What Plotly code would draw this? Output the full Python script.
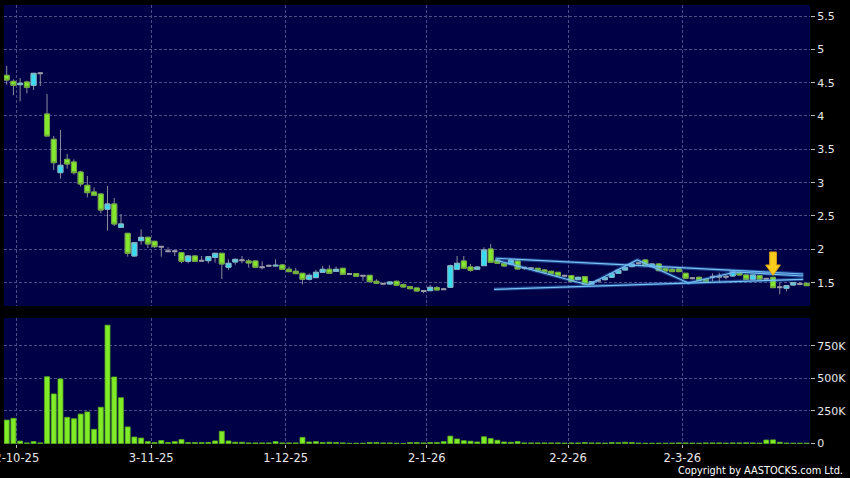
import plotly.graph_objects as go
import pandas as pd

# ---------------- data ----------------
HOLIDAYS = ["2025-10-01", "2025-10-07", "2025-10-29", "2025-12-25", "2025-12-26",
            "2026-01-01", "2026-02-17", "2026-02-18", "2026-02-19"]
dates = [d for d in pd.bdate_range("2025-09-29", "2026-03-26")
         if d.strftime("%Y-%m-%d") not in HOLIDAYS]

open_ = [4.61, 4.52, 4.47, 4.51, 4.46, 4.64, 4.03, 3.65, 3.15, 3.35,
         3.31, 3.16, 2.96, 2.86, 2.83, 2.60, 2.68, 2.33, 2.24, 1.90,
         2.13, 2.18, 2.12, 2.04, 1.97, 1.97, 1.95, 1.82, 1.90, 1.83,
         1.83, 1.88, 1.94, 1.73, 1.81, 1.835, 1.825, 1.825, 1.73, 1.755,
         1.75, 1.765, 1.70, 1.67, 1.64, 1.55, 1.575, 1.655, 1.70, 1.67,
         1.715, 1.63, 1.635, 1.605, 1.61, 1.52, 1.485, 1.48, 1.52, 1.47,
         1.44, 1.42, 1.375, 1.38, 1.425, 1.40, 1.43, 1.70, 1.825, 1.735,
         1.70, 1.755, 2.005, 1.84, 1.79, 1.78, 1.825, 1.725, 1.715, 1.715,
         1.69, 1.67, 1.655, 1.605, 1.605, 1.545, 1.59, 1.475, 1.53, 1.545,
         1.58, 1.64, 1.69, 1.74, 1.79, 1.84, 1.74, 1.78, 1.715, 1.70,
         1.705, 1.64, 1.565, 1.58, 1.55, 1.59, 1.59, 1.59, 1.60, 1.655,
         1.615, 1.55, 1.605, 1.56, 1.58, 1.43, 1.415, 1.465, 1.48, 1.49]
high = [4.75, 4.55, 4.57, 4.53, 4.64, 4.64, 4.33, 3.70, 3.79, 3.43,
        3.35, 3.18, 3.10, 2.93, 2.84, 2.95, 2.77, 2.53, 2.24, 2.10,
        2.30, 2.19, 2.13, 2.04, 2.03, 1.98, 1.96, 1.91, 1.91, 1.90,
        1.89, 1.94, 1.94, 1.85, 1.86, 1.90, 1.855, 1.83, 1.82, 1.77,
        1.85, 1.78, 1.74, 1.72, 1.64, 1.64, 1.69, 1.75, 1.76, 1.74,
        1.72, 1.64, 1.64, 1.61, 1.61, 1.55, 1.49, 1.52, 1.53, 1.49,
        1.45, 1.42, 1.38, 1.465, 1.45, 1.41, 1.77, 1.90, 1.90, 1.78,
        1.74, 2.03, 2.08, 1.87, 1.80, 1.85, 1.83, 1.73, 1.72, 1.72,
        1.70, 1.68, 1.66, 1.61, 1.61, 1.59, 1.59, 1.52, 1.55, 1.58,
        1.64, 1.69, 1.73, 1.79, 1.80, 1.85, 1.79, 1.79, 1.72, 1.71,
        1.71, 1.645, 1.58, 1.59, 1.56, 1.64, 1.65, 1.63, 1.67, 1.66,
        1.62, 1.62, 1.61, 1.57, 1.58, 1.505, 1.46, 1.51, 1.51, 1.50]
low = [4.47, 4.31, 4.22, 4.34, 4.39, 4.45, 3.70, 3.19, 3.06, 3.21,
       3.12, 2.94, 2.78, 2.80, 2.54, 2.28, 2.35, 2.33, 1.89, 1.89,
       2.07, 2.02, 2.02, 1.89, 1.96, 1.90, 1.79, 1.79, 1.82, 1.82,
       1.79, 1.80, 1.555, 1.69, 1.77, 1.79, 1.725, 1.725, 1.70, 1.74,
       1.745, 1.70, 1.66, 1.63, 1.475, 1.53, 1.57, 1.65, 1.64, 1.66,
       1.615, 1.62, 1.59, 1.53, 1.51, 1.49, 1.48, 1.47, 1.46, 1.43,
       1.40, 1.37, 1.34, 1.37, 1.39, 1.39, 1.42, 1.70, 1.71, 1.665,
       1.69, 1.75, 1.80, 1.78, 1.74, 1.77, 1.70, 1.69, 1.70, 1.665,
       1.65, 1.62, 1.59, 1.59, 1.51, 1.54, 1.47, 1.46, 1.50, 1.53,
       1.57, 1.63, 1.68, 1.73, 1.77, 1.75, 1.73, 1.67, 1.67, 1.66,
       1.66, 1.56, 1.55, 1.53, 1.51, 1.52, 1.50, 1.55, 1.59, 1.61,
       1.55, 1.545, 1.55, 1.55, 1.425, 1.325, 1.37, 1.46, 1.46, 1.45]
close = [4.54, 4.46, 4.49, 4.43, 4.64, 4.64, 3.70, 3.30, 3.26, 3.28,
         3.15, 2.98, 2.85, 2.81, 2.59, 2.68, 2.38, 2.38, 1.94, 2.10,
         2.18, 2.08, 2.04, 2.04, 1.97, 1.97, 1.82, 1.90, 1.82, 1.83,
         1.89, 1.94, 1.78, 1.79, 1.85, 1.835, 1.795, 1.73, 1.73, 1.755,
         1.76, 1.70, 1.665, 1.635, 1.55, 1.61, 1.655, 1.70, 1.64, 1.70,
         1.625, 1.63, 1.595, 1.605, 1.515, 1.49, 1.485, 1.51, 1.46, 1.435,
         1.41, 1.375, 1.375, 1.43, 1.39, 1.40, 1.755, 1.79, 1.715, 1.685,
         1.735, 1.99, 1.805, 1.79, 1.75, 1.84, 1.705, 1.725, 1.715, 1.675,
         1.655, 1.63, 1.60, 1.605, 1.52, 1.58, 1.475, 1.515, 1.53, 1.575,
         1.635, 1.685, 1.725, 1.78, 1.79, 1.755, 1.78, 1.68, 1.675, 1.665,
         1.665, 1.565, 1.565, 1.53, 1.515, 1.59, 1.59, 1.59, 1.665, 1.615,
         1.55, 1.615, 1.55, 1.56, 1.425, 1.43, 1.455, 1.50, 1.48, 1.455]
volume = [180e3, 193e3, 19e3, 5e3, 15e3, 5e3, 512e3, 380e3, 495e3, 201e3,
          190e3, 226e3, 242e3, 109e3, 278e3, 907e3, 510e3, 351e3, 127e3, 50e3,
          42e3, 15e3, 8e3, 23e3, 8e3, 15e3, 30e3, 8e3, 8e3, 8e3,
          8e3, 20e3, 94e3, 20e3, 10e3, 10e3, 5e3, 5e3, 5e3, 5e3,
          15e3, 5e3, 5e3, 5e3, 47e3, 12e3, 15e3, 8e3, 10e3, 8e3,
          5e3, 2e3, 3e3, 3e3, 8e3, 8e3, 5e3, 5e3, 3e3, 1e3,
          8e3, 8e3, 5e3, 8e3, 8e3, 15e3, 57e3, 35e3, 22e3, 18e3,
          12e3, 52e3, 38e3, 25e3, 12e3, 10e3, 15e3, 5e3, 5e3, 5e3,
          5e3, 5e3, 5e3, 4e3, 5e3, 5e3, 8e3, 5e3, 5e3, 4e3,
          8e3, 6e3, 10e3, 8e3, 4e3, 3e3, 3e3, 3e3, 3e3, 4e3,
          5e3, 5e3, 4e3, 3e3, 5e3, 5e3, 5e3, 4e3, 5e3, 5e3,
          6e3, 5e3, 4e3, 27e3, 28e3, 10e3, 4e3, 3e3, 3e3, 3e3]

price_ticks = [1.5, 2, 2.5, 3, 3.5, 4, 4.5, 5, 5.5]
vol_ticks = [0, 250e3, 500e3, 750e3]
vol_tick_text = ["0", "250K", "500K", "750K"]

# drawn trend lines (bar index, price)
upper_line_x, upper_line_y = [72.7, 118.5], [1.866, 1.63]
lower_line_x, lower_line_y = [72.5, 118.5], [1.40, 1.55]
zigzag_x = [72.7, 86.5, 93.8, 101.4, 108.4, 118.5]
zigzag_y = [1.84, 1.465, 1.84, 1.495, 1.66, 1.60]

# signal arrow
arrow_bar = 114
arrow_top, arrow_neck, arrow_tip = 1.96, 1.765, 1.61

# ---------------- figure ----------------
n = len(dates)
idx = list(range(n))

tickvals, ticktext = [], []
for i in range(1, n):
    if dates[i].month != dates[i - 1].month:
        tickvals.append(i - 0.5)
        ticktext.append(f"{dates[i].day}-{dates[i].month}-{dates[i].strftime('%y')}")

CYAN = "#36DCF2"
GREEN = "#84E82E"
GREY = "#9A9AA6"
WICK = "#8C8C9C"

fig = go.Figure()

# wicks (all candles, grey)
fig.add_trace(go.Candlestick(
    x=idx, open=open_, high=high, low=low, close=close,
    increasing=dict(line=dict(color=WICK, width=1), fillcolor=WICK),
    decreasing=dict(line=dict(color=WICK, width=1), fillcolor=WICK),
    whiskerwidth=0, hoverinfo="skip", showlegend=False, xaxis="x", yaxis="y"))

def bodies(sel, fill, edge, width=1):
    xs = [i for i in idx if sel(i)]
    o = [open_[i] for i in xs]
    c = [close[i] for i in xs]
    hi = [max(open_[i], close[i]) for i in xs]
    lo = [min(open_[i], close[i]) for i in xs]
    fig.add_trace(go.Candlestick(
        x=xs, open=o, high=hi, low=lo, close=c,
        increasing=dict(line=dict(color=edge, width=width), fillcolor=fill),
        decreasing=dict(line=dict(color=edge, width=width), fillcolor=fill),
        whiskerwidth=0, hoverinfo="skip", showlegend=False, xaxis="x", yaxis="y"))

bodies(lambda i: close[i] > open_[i], CYAN, "#7FB8C8")
bodies(lambda i: close[i] < open_[i], GREEN, "#6EA83A")
bodies(lambda i: close[i] == open_[i], GREY, GREY, 2)

# trend lines (glow + core)
for lx, ly in [(upper_line_x, upper_line_y), (lower_line_x, lower_line_y), (zigzag_x, zigzag_y)]:
    fig.add_trace(go.Scatter(x=lx, y=ly, mode="lines", line=dict(color="rgba(70,150,230,0.4)", width=3.5),
                             hoverinfo="skip", showlegend=False, xaxis="x", yaxis="y"))
    fig.add_trace(go.Scatter(x=lx, y=ly, mode="lines", line=dict(color="#78C2F2", width=1.2),
                             hoverinfo="skip", showlegend=False, xaxis="x", yaxis="y"))

# volume
fig.add_trace(go.Bar(x=idx, y=volume, width=0.74,
                     marker=dict(color="#80EC28", line=dict(color="#5AB01C", width=0.8)),
                     hoverinfo="skip", showlegend=False, xaxis="x2", yaxis="y2"))

# arrow shape
a = arrow_bar
fig.add_shape(type="path", xref="x", yref="y",
              path=(f"M {a-0.5},{arrow_top} L {a+0.5},{arrow_top} L {a+0.5},{arrow_neck} "
                    f"L {a+1.1},{arrow_neck} L {a},{arrow_tip} L {a-1.1},{arrow_neck} "
                    f"L {a-0.5},{arrow_neck} Z"),
              fillcolor="#F9CC1C", line=dict(color="#DDA010", width=1))

GRID = "#4C4C88"
FONT = dict(family="DejaVu Sans", size=11, color="#E8E8E8")
XFONT = dict(family="DejaVu Sans", size=11.5, color="#E8E8E8")
xcommon = dict(range=[-0.4, 119.5], tickvals=tickvals, ticktext=ticktext,
               showgrid=True, gridcolor=GRID, griddash="3px,2px", gridwidth=1,
               zeroline=False, showline=False, rangeslider=dict(visible=False), fixedrange=True,
               automargin=False)

fig.update_layout(
    width=850, height=478,
    margin=dict(l=4, r=40, t=5, b=34, autoexpand=False),
    paper_bgcolor="#000000", plot_bgcolor="#000046",
    font=FONT, showlegend=False, hovermode=False,
    boxgap=0.26, boxgroupgap=0,
    xaxis=dict(**xcommon, anchor="y", showticklabels=False, ticks=""),
    xaxis2=dict(**xcommon, anchor="y2", matches="x", showticklabels=True,
                ticklabeloverflow="allow",
                ticks="outside", ticklen=3, tickcolor="#BBBBBB", tickfont=XFONT),
    yaxis=dict(domain=[0.3144, 1.0], range=[1.15, 5.665], side="right", tickvals=price_ticks,
               ticktext=[f"{v:g}" for v in price_ticks], automargin=False,
               showgrid=True, gridcolor=GRID, griddash="3px,2px", zeroline=False,
               ticks="outside", ticklen=4, tickcolor="#BBBBBB", tickfont=FONT, fixedrange=True),
    yaxis2=dict(domain=[0.0, 0.287], range=[-3500, 962000], side="right", tickvals=vol_ticks,
                ticktext=vol_tick_text, showgrid=True, gridcolor=GRID, griddash="3px,2px",
                zeroline=False, ticks="outside", ticklen=4, tickcolor="#BBBBBB", automargin=False,
                tickfont=FONT, fixedrange=True),
)

fig.add_annotation(text="Copyright by AASTOCKS.com Ltd.", xref="paper", yref="paper",
                   x=(845 - 4) / 806, y=-19 / 439, xanchor="right", yanchor="top", showarrow=False,
                   font=dict(family="DejaVu Sans", size=9.8, color="#FFFFFF"))

fig.write_html("out.html", config={"displayModeBar": False},
               post_script="document.body.style.margin='0';")
